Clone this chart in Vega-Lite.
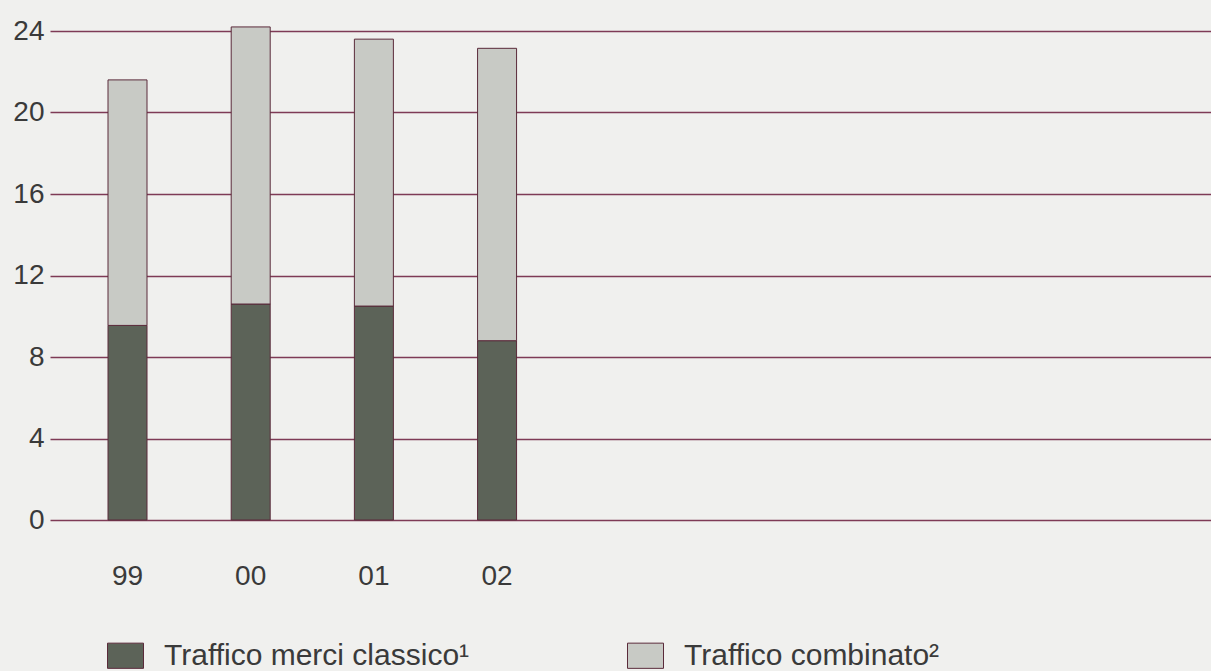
{
  "$schema": "https://vega.github.io/schema/vega-lite/v6.json",
  "autosize": {"type": "none"},
  "padding": {"left": 50, "top": 31, "right": 0, "bottom": 151},
  "width": 1161,
  "height": 489,
  "background": "#f0f0ee",
  "config": {
    "view": {"stroke": null},
    "font": "Liberation Sans"
  },
  "data": {
    "values": [
      {"anno": "99", "tipo": "Traffico merci classico¹", "ord": 1, "valore": 9.55},
      {"anno": "99", "tipo": "Traffico combinato²", "ord": 2, "valore": 12.05},
      {"anno": "00", "tipo": "Traffico merci classico¹", "ord": 1, "valore": 10.6},
      {"anno": "00", "tipo": "Traffico combinato²", "ord": 2, "valore": 13.6},
      {"anno": "01", "tipo": "Traffico merci classico¹", "ord": 1, "valore": 10.5},
      {"anno": "01", "tipo": "Traffico combinato²", "ord": 2, "valore": 13.1},
      {"anno": "02", "tipo": "Traffico merci classico¹", "ord": 1, "valore": 8.8},
      {"anno": "02", "tipo": "Traffico combinato²", "ord": 2, "valore": 14.35}
    ]
  },
  "mark": {"type": "bar", "stroke": "#5a2a3a", "strokeWidth": 1},
  "encoding": {
    "x": {
      "field": "anno",
      "type": "nominal",
      "scale": {
        "domain": ["99", "00", "01", "02", "03", "04", "05", "06", "07"],
        "paddingInner": 0.6834,
        "paddingOuter": 0.554,
        "align": 0.425
      },
      "axis": {
        "title": null,
        "values": ["99", "00", "01", "02"],
        "ticks": false,
        "domain": false,
        "labelAngle": 0,
        "labelFontSize": 28,
        "labelColor": "#3a3a3a",
        "labelPadding": 42
      }
    },
    "y": {
      "field": "valore",
      "type": "quantitative",
      "stack": "zero",
      "scale": {"domain": [0, 24], "nice": false, "zero": true},
      "axis": {
        "title": null,
        "values": [0, 4, 8, 12, 16, 20, 24],
        "ticks": false,
        "domain": false,
        "grid": true,
        "gridColor": "#7e3a56",
        "gridWidth": 1.5,
        "gridOpacity": 1,
        "labelFontSize": 28,
        "labelColor": "#3a3a3a",
        "labelPadding": 6
      }
    },
    "color": {
      "field": "tipo",
      "type": "nominal",
      "scale": {
        "domain": ["Traffico merci classico¹", "Traffico combinato²"],
        "range": ["#5c6358", "#c8cac5"]
      },
      "legend": {
        "title": null,
        "orient": "none",
        "legendX": 57,
        "legendY": 606,
        "direction": "horizontal",
        "symbolType": "M-1,-0.7H1V0.7H-1Z",
        "symbolSize": 1296,
        "symbolStrokeColor": "#5a2a3a",
        "symbolStrokeWidth": 1,
        "symbolOpacity": 1,
        "labelFontSize": 30,
        "labelColor": "#3a3a3a",
        "labelOffset": 20,
        "columnPadding": 155,
        "labelLimit": 0
      }
    },
    "order": {"field": "ord", "type": "quantitative"}
  }
}
